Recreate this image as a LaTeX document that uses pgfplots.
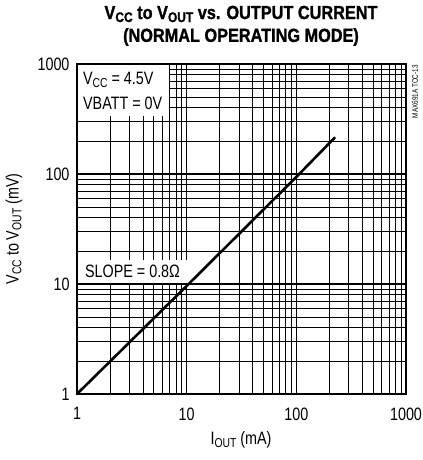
\documentclass[border=0pt]{standalone}
\usepackage{fontspec}
\setmainfont{Liberation Sans}[FakeStretch=0.8]
\newfontfamily\titlefont{Liberation Sans Bold}[FakeStretch=0.86, FakeBold=1.2]
\usepackage{pgfplots}
\pgfplotsset{compat=1.18}
\newcommand{\sub}[2]{\raisebox{-0.3ex}{\fontsize{#2}{#2}\selectfont #1}}
\begin{document}
\begin{tikzpicture}[x=1bp,y=1bp]
\path[use as bounding box] (0,0) rectangle (422,460);
\begin{axis}[
  at={(77bp,66bp)}, anchor=south west,
  scale only axis, width=329bp, height=330bp,
  xmode=log, ymode=log,
  xmin=1, xmax=1000, ymin=1, ymax=1000,
  xtick={1,10,100,1000}, xticklabels={1,10,100,1000},
  ytick={1,10,100,1000}, yticklabels={1,10,100,1000},
  major tick length=0pt, minor tick length=0pt,
  tick label style={font=\fontsize{18}{18}\selectfont},
  xticklabel style={yshift=-10bp},
  yticklabel style={xshift=-4bp},
  grid=both,
  major grid style={black, line width=1.5bp},
  minor grid style={black, line width=0.7bp},
  axis line style={line width=2.5bp},
  clip=false,
]
\addplot[black, line width=2.6bp] coordinates {(1,1) (10,9.6) (100,94) (226,216)};
\fill[white] (rel axis cs:0,0.842) rectangle (rel axis cs:0.28,1);
\fill[white] (rel axis cs:0,0.336) rectangle (rel axis cs:0.337,0.406);
\draw[line width=2.5bp] (rel axis cs:0,0) rectangle (rel axis cs:1,1);
\node[anchor=west, inner sep=0pt, font=\fontsize{18}{18}\selectfont] at (rel axis cs:0.018,0.952) {V\sub{CC}{13} = 4.5V};
\node[anchor=west, inner sep=0pt, font=\fontsize{18}{18}\selectfont] at (rel axis cs:0.018,0.882) {VBATT = 0V};
\node[anchor=west, inner sep=0pt, font=\fontsize{18}{18}\selectfont] at (rel axis cs:0.024,0.371) {SLOPE = 0.8Ω};
\end{axis}
\node[font=\titlefont\fontsize{19}{19}\selectfont] at (241,446) {V\sub{CC}{14} to V\sub{OUT}{14} vs. OUTPUT CURRENT};
\node[font=\titlefont\fontsize{19}{19}\selectfont] at (241,423) {(NORMAL OPERATING MODE)};
\node[font=\fontsize{18}{18}\selectfont] at (241,20) {I\sub{OUT}{13} (mA)};
\node[rotate=90, font=\fontsize{18}{18}\selectfont] at (14,231) {V\sub{CC}{13} to V\sub{OUT}{13} (mV)};
\node[rotate=90, anchor=east, inner sep=0pt, font=\fontsize{8}{8}\selectfont] at (415,395) {MAX691A TOC-13};
\end{tikzpicture}
\end{document}
